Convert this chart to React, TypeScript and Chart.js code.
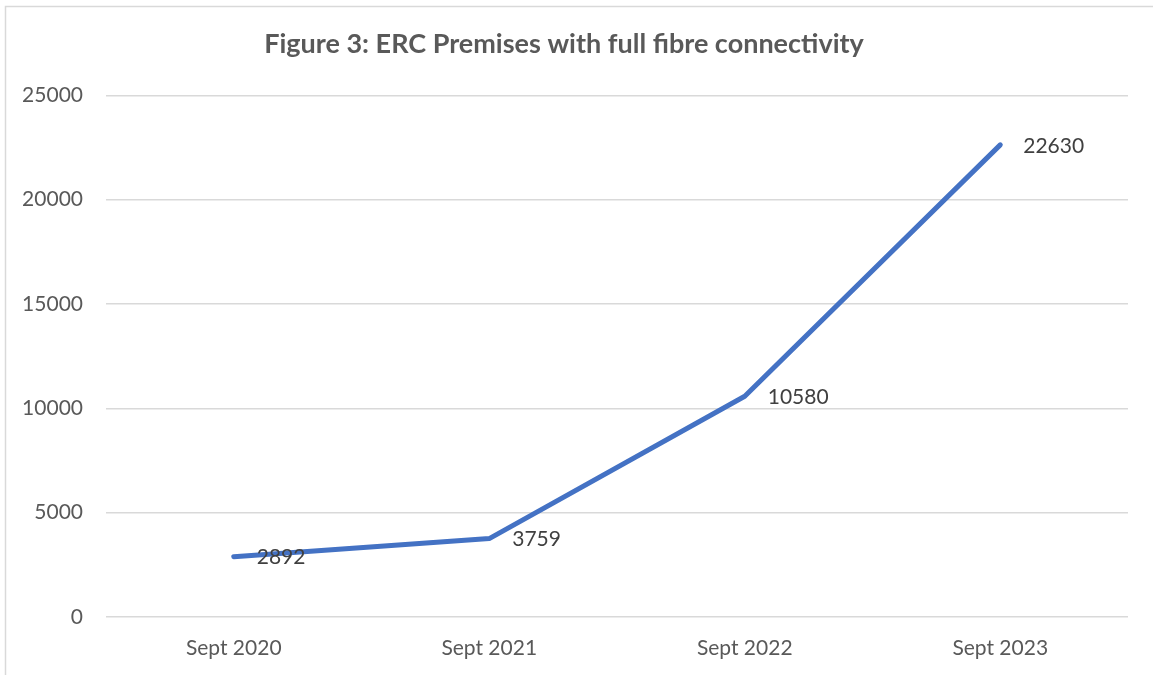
import React, { useEffect, useRef } from "react";
import { Chart, registerables } from "chart.js";

Chart.register(...registerables);

const categories = ["Sept 2020", "Sept 2021", "Sept 2022", "Sept 2023"];
const premises = [2892, 3759, 10580, 22630];
const yTicks = [0, 5000, 10000, 15000, 20000, 25000];
const titleText = "Figure 3: ERC Premises with full fibre connectivity";

const FONT = "Lato, 'Open Sans', sans-serif";
const TEXT = "#595959";

const frame = {
  id: "frame",
  beforeDraw(chart: any) {
    const ctx = chart.ctx;
    ctx.save();
    ctx.fillStyle = "#ffffff";
    ctx.fillRect(0, 0, chart.width, chart.height);
    ctx.strokeStyle = "#d9d9d9";
    ctx.lineWidth = 1.5;
    ctx.strokeRect(5.5, 6.5, chart.width + 20, chart.height + 20);
    ctx.restore();
  },
};

const valueLabels = {
  id: "valueLabels",
  afterDatasetsDraw(chart: any) {
    const ctx = chart.ctx;
    const meta = chart.getDatasetMeta(0);
    const data = chart.data.datasets[0].data;
    ctx.save();
    ctx.font = `21px ${FONT}`;
    ctx.fillStyle = "#404040";
    ctx.textAlign = "left";
    ctx.textBaseline = "middle";
    meta.data.forEach((pt: any, i: number) => {
      ctx.fillText(String(data[i]), pt.x + 23, pt.y + 1);
    });
    ctx.restore();
  },
};

export default function App() {
  const ref = useRef<HTMLCanvasElement>(null);
  useEffect(() => {
    document.body.style.margin = "0";
    const chart = new Chart(ref.current!, {
      type: "line",
      data: {
        labels: categories,
        datasets: [
          {
            data: premises,
            borderColor: "#4472C4",
            backgroundColor: "#4472C4",
            borderWidth: 5,
            borderCapStyle: "round",
            borderJoinStyle: "round",
            pointRadius: 0,
            tension: 0,
          },
        ],
      },
      options: {
        animation: false,
        responsive: false,
        layout: { padding: { left: 0, right: 25, top: 0, bottom: 0 } },
        plugins: {
          legend: { display: false },
          tooltip: { enabled: false },
          title: {
            display: true,
            text: titleText,
            color: TEXT,
            font: { family: FONT, size: 27, weight: "bold", lineHeight: 1.2 },
            padding: { top: 28, bottom: 35 },
          },
        },
        scales: {
          x: {
            offset: true,
            grid: { display: false, drawTicks: false },
            border: { display: false },
            ticks: { color: TEXT, font: { family: FONT, size: 21 }, padding: 19 },
            afterFit: (s: any) => {
              s.height = 58;
            },
          },
          y: {
            min: 0,
            max: 25000,
            afterBuildTicks: (s: any) => {
              s.ticks = yTicks.map((v) => ({ value: v }));
            },
            grid: { color: "#d9d9d9", lineWidth: 1.5, drawTicks: false },
            border: { display: false },
            ticks: {
              color: TEXT,
              font: { family: FONT, size: 21 },
              padding: 23,
              callback: (v: any) => String(v),
            },
            afterFit: (s: any) => {
              s.width = 106;
            },
          },
        },
      },
      plugins: [frame, valueLabels],
    });
    return () => chart.destroy();
  }, []);
  return (
    <div style={{ width: 1153, height: 675 }}>
      <canvas ref={ref} width={1153} height={675} style={{ display: "block" }} />
    </div>
  );
}
